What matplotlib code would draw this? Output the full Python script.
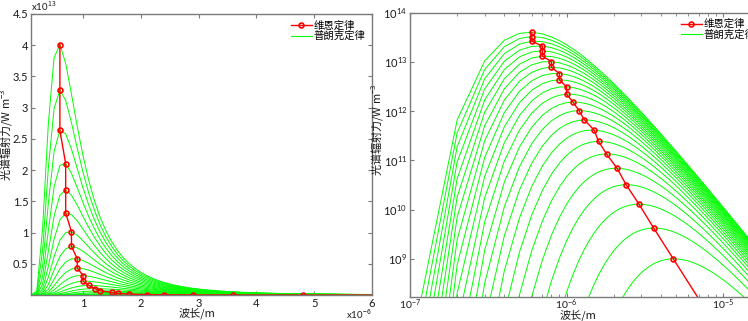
import numpy as np
import matplotlib
matplotlib.use('Agg')
import matplotlib.pyplot as plt
from matplotlib.lines import Line2D
from matplotlib.ticker import LogLocator, NullLocator, NullFormatter

plt.rcParams['font.family'] = ['Lato', 'Noto Sans CJK SC', 'DejaVu Sans']
plt.rcParams['mathtext.fontset'] = 'custom'
plt.rcParams['mathtext.rm'] = 'Noto Sans CJK SC'
plt.rcParams['mathtext.it'] = 'Noto Sans CJK SC'
plt.rcParams['mathtext.bf'] = 'Noto Sans CJK SC'

# temperatures of the Planck curves (K), read from the Wien peaks
temps = [5000, 4800, 4600, 4400, 4200, 4000, 3800, 3600, 3400, 3200, 3000,
         2800, 2600, 2400, 2200, 2000, 1800, 1600, 1400, 1200, 1000, 800,
         600, 400]
# wavelength sampling: 0.1 um steps
lam = np.arange(1, 181) * 1e-7

legend_labels = ['维恩定律', '普朗克定律']
left_yticks = [0.5e13, 1e13, 1.5e13, 2e13, 2.5e13, 3e13, 3.5e13, 4e13, 4.5e13]
left_yticklabels = ['0.5', '1', '1.5', '2', '2.5', '3', '3.5', '4', '4.5']
left_xticks = [1e-6, 2e-6, 3e-6, 4e-6, 5e-6, 6e-6]
left_xticklabels = ['1', '2', '3', '4', '5', '6']

c1 = 3.7418e-16
c2 = 1.4388e-2


def planck(l, t):
    with np.errstate(over='ignore'):
        return c1 / l**5 / (np.exp(c2 / (l * t)) - 1)


curves = [planck(lam, t) for t in temps]
wien_x = [lam[np.argmax(m)] for m in curves]
wien_y = [np.max(m) for m in curves]

W, H = 748, 321
fig = plt.figure(figsize=(W / 100, H / 100), dpi=100)
ax1 = fig.add_axes([31 / W, (H - 295) / H, 341 / W, 281 / H])
ax2 = fig.add_axes([410 / W, (H - 296.7) / H, 352 / W, 284 / H])

spine_c = '#7a7a7a'
green = '#00ff00'
red = '#ff0000'
txt_c = '#1a1a1a'
cjk = ['Noto Sans CJK SC', 'DejaVu Sans']

for ax in (ax1, ax2):
    for m in curves:
        ax.plot(lam, m, color=green, lw=0.7)
    ax.plot(wien_x, wien_y, color=red, lw=1.0, marker='o', ms=3.5,
            mfc='none', mec=red, mew=1.2)
    for s in ax.spines.values():
        s.set_color(spine_c)
        s.set_linewidth(1.0)
    ax.tick_params(direction='in', top=True, right=True, length=3,
                   color=spine_c, labelsize=8, labelcolor=txt_c, pad=2)
    ax.tick_params(which='minor', direction='in', top=True, right=True,
                   length=2, color=spine_c)
    handles = [Line2D([], [], color=red, lw=1.0, marker='o', ms=3.5,
                      mfc='none', mec=red, mew=1.2),
               Line2D([], [], color=green, lw=0.8)]
    ax.legend(handles, legend_labels, loc='upper right', frameon=False,
              prop={'family': cjk, 'size': 7.5},
              handlelength=2.0, handletextpad=0.2,
              labelspacing=0.05, borderaxespad=0.2)
    ax.set_xlabel('波长/m', fontsize=8, color=txt_c, family=cjk)
    ax.set_ylabel('光谱辐射力/W m$^{-3}$', fontsize=8, color=txt_c,
                  family=cjk)

# left: linear axes
ax1.set_xlim(1e-7, 6e-6)
ax1.set_ylim(0, 4.5e13)
ax1.set_xticks(left_xticks)
ax1.set_xticklabels(left_xticklabels)
ax1.set_yticks(left_yticks)
ax1.set_yticklabels(left_yticklabels)
ax1.text(0, 1.003, 'x10$^{13}$', transform=ax1.transAxes, fontsize=7,
         ha='left', va='bottom', color=txt_c)
ax1.text(1.0, -0.045, 'x10$^{-6}$', transform=ax1.transAxes, fontsize=7,
         ha='right', va='top', color=txt_c)
ax1.xaxis.set_label_coords(0.487, -0.045)
ax1.yaxis.set_label_coords(-0.050, 0.57)

# right: log-log axes
ax2.set_xscale('log')
ax2.set_yscale('log')
ax2.set_xlim(1e-7, 1.77e-5)
ax2.set_ylim(1.7e8, 1e14)
ax2.xaxis.set_minor_locator(LogLocator(base=10, subs=np.arange(2, 10)))
ax2.xaxis.set_minor_formatter(NullFormatter())
ax2.yaxis.set_minor_locator(NullLocator())
ax2.set_yticks([1e9, 1e10, 1e11, 1e12, 1e13, 1e14])
ax2.tick_params(axis='x', pad=0.5, labelsize=7.5)
ax2.xaxis.set_label_coords(0.477, -0.045)
ax2.yaxis.set_label_coords(-0.071, 0.59)

fig.savefig('out.png', dpi=100)
